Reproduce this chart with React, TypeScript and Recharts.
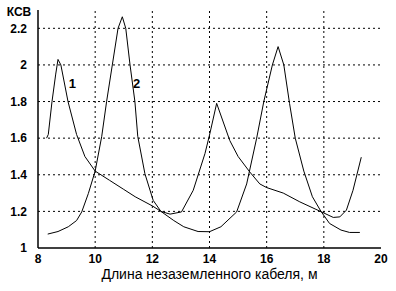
import {
  Label,
  Line,
  LineChart,
  ReferenceDot,
  ReferenceLine,
  XAxis,
  YAxis,
} from "recharts";

// curve 1: first peak near 8.7 m
const curve1X = [
  8.3, 8.36, 8.49, 8.62, 8.7, 8.8, 9.05, 9.35, 9.64, 10.0, 10.5, 11.0, 11.4,
  12.0, 12.3, 12.75, 13.1, 13.6, 14.0, 14.4, 14.95, 15.3, 15.65, 15.9, 16.2,
  16.4, 16.6, 16.8, 17.0, 17.3, 17.6, 17.9, 18.2, 18.6, 18.9, 19.26,
];
const curve1Y = [
  1.6, 1.62, 1.8, 1.95, 2.03, 2.0, 1.8, 1.62, 1.5, 1.42, 1.37, 1.32, 1.28,
  1.23, 1.2, 1.15, 1.116, 1.09, 1.089, 1.116, 1.197, 1.35, 1.6, 1.8, 2.0, 2.1,
  2.0, 1.79, 1.6, 1.42, 1.28, 1.2, 1.134, 1.098, 1.085, 1.085,
];

// curve 2: first peak near 11 m
const curve2X = [
  8.34, 8.7, 9.06, 9.35, 9.53, 9.76, 10.0, 10.23, 10.4, 10.6, 10.8, 10.95,
  11.07, 11.22, 11.39, 11.49, 11.74, 12.03, 12.3, 12.62, 13.02, 13.43, 13.84,
  14.01, 14.25, 14.71, 15.0, 15.41, 15.76, 16.0, 16.58, 17.16, 17.92, 18.33,
  18.56, 18.79, 19.02, 19.31,
];
const curve2Y = [
  1.076, 1.09, 1.116, 1.15, 1.197, 1.297, 1.42, 1.61, 1.8, 2.0, 2.2, 2.263,
  2.2, 2.0, 1.8, 1.61, 1.406, 1.26, 1.2, 1.185, 1.197, 1.315, 1.515, 1.623,
  1.79, 1.587, 1.5, 1.415, 1.35, 1.33, 1.3, 1.252, 1.197, 1.167, 1.17, 1.207,
  1.315, 1.496,
];

const xTicks = [8, 10, 12, 14, 16, 18, 20];
const yTicks = [1, 1.2, 1.4, 1.6, 1.8, 2, 2.2];

const curve1 = curve1X.map((x, i) => ({ x, y: curve1Y[i] }));
const curve2 = curve2X.map((x, i) => ({ x, y: curve2Y[i] }));

const font = "'Liberation Sans', Arial, sans-serif";
const tickStyle = { fill: "#000", fontSize: 12, fontWeight: 700, fontFamily: font };
const frame = { stroke: "#000", strokeWidth: 1.5 };

export default function App() {
  return (
    <div style={{ position: "absolute", left: 0, top: 0, background: "#fff" }}>
      <LineChart
        width={396}
        height={291}
        margin={{ top: 10, right: 15, left: 0, bottom: 0 }}
      >
        {/* dotted grid at every tick */}
        {xTicks.slice(1, -1).map((t) => (
          <ReferenceLine key={"gx" + t} x={t} stroke="#000" strokeDasharray="2 3" />
        ))}
        {yTicks.slice(1).map((t) => (
          <ReferenceLine key={"gy" + t} y={t} stroke="#000" strokeDasharray="2 3" />
        ))}
        <XAxis
          dataKey="x"
          type="number"
          domain={[8, 20]}
          ticks={xTicks}
          height={43}
          tickLine={false}
          tickSize={4}
          tickMargin={2}
          tick={tickStyle}
          axisLine={frame}
          allowDuplicatedCategory={false}
        >
          <Label
            value="Длина незаземленного кабеля, м"
            position="insideBottom"
            offset={12}
            style={{ fill: "#000", fontSize: 14, fontFamily: font }}
          />
        </XAxis>
        <XAxis
          xAxisId="top"
          orientation="top"
          type="number"
          domain={[8, 20]}
          height={0}
          tick={false}
          tickLine={false}
          axisLine={frame}
        />
        <YAxis
          type="number"
          domain={[1, 2.3]}
          ticks={yTicks}
          width={38}
          tickLine={false}
          tickMargin={5}
          tick={tickStyle}
          axisLine={frame}
        >
          <Label
            value="КСВ"
            position="insideTop"
            offset={-3}
            style={{ fill: "#000", fontSize: 12, fontWeight: 700, fontFamily: font }}
          />
        </YAxis>
        <YAxis
          yAxisId="right"
          orientation="right"
          domain={[1, 2.3]}
          width={0}
          tick={false}
          tickLine={false}
          axisLine={frame}
        />
        <Line
          data={curve1}
          dataKey="y"
          type="linear"
          stroke="#000"
          strokeWidth={1}
          dot={false}
          isAnimationActive={false}
        />
        <Line
          data={curve2}
          dataKey="y"
          type="linear"
          stroke="#000"
          strokeWidth={1}
          dot={false}
          isAnimationActive={false}
        />
        <ReferenceDot x={9.2} y={1.9} r={0} stroke="none">
          <Label
            value="1"
            position="center"
            style={{ fill: "#000", fontSize: 13, fontWeight: 700, fontFamily: font }}
          />
        </ReferenceDot>
        <ReferenceDot x={11.45} y={1.9} r={0} stroke="none">
          <Label
            value="2"
            position="center"
            style={{ fill: "#000", fontSize: 13, fontWeight: 700, fontFamily: font }}
          />
        </ReferenceDot>
      </LineChart>
    </div>
  );
}
